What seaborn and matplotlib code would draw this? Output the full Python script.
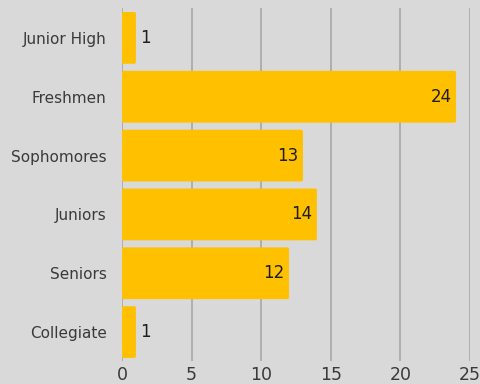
import pandas as pd
import matplotlib.pyplot as plt
import seaborn as sns
from matplotlib.patches import FancyBboxPatch

grades = ["Junior High", "Freshmen", "Sophomores", "Juniors", "Seniors", "Collegiate"]
counts = [1, 24, 13, 14, 12, 1]

df = pd.DataFrame({"Grade": grades, "Count": counts})

sns.set_style("white")
plt.rcParams["font.family"] = ["DejaVu Sans"]

bg = "#d9d9d9"
fig = plt.figure(figsize=(4.81, 3.84), dpi=100, facecolor=bg)
ax = fig.add_axes([0.2536, 0.0586, 0.7235, 0.9193])
ax.set_facecolor(bg)

sns.barplot(data=df, x="Count", y="Grade", order=grades, color="#ffc000",
            saturation=1, width=0.88, ax=ax, zorder=3)

# slightly rounded bar ends
for p in list(ax.patches):
    x0, y0 = p.get_x(), p.get_y()
    w, h = p.get_width(), p.get_height()
    p.set_visible(False)
    ax.add_patch(FancyBboxPatch((x0, y0), w, h,
                                boxstyle="round,pad=0,rounding_size=0.12",
                                mutation_aspect=0.25,
                                fc="#ffc000", ec="none", zorder=3))

for i, v in enumerate(counts):
    if v > 3:
        ax.text(v - 0.3, i, str(v), ha="right", va="center",
                fontsize=12, color="#1e1e1e", zorder=4)
    else:
        ax.text(v + 0.3, i, str(v), ha="left", va="center",
                fontsize=12, color="#1e1e1e", zorder=4)

ax.set_xlim(0, 25)
ax.set_ylim(5.5, -0.5)
ax.set_xticks([0, 5, 10, 15, 20, 25])
ax.xaxis.grid(True, color="#ababab", linewidth=1.3, zorder=0)
ax.set_axisbelow(True)
ax.set_xlabel("")
ax.set_ylabel("")
for s in ax.spines.values():
    s.set_visible(False)

ax.set_yticks([i + 0.5 for i in range(-1, 6)], minor=True)
ax.tick_params(axis="y", which="major", length=0, pad=11, labelsize=11,
               labelcolor="#3a3a3a")
ax.tick_params(axis="y", which="minor", length=3, width=1.2, color="#555555",
               direction="inout")
ax.tick_params(axis="x", length=0, pad=3, labelsize=12.5, labelcolor="#3a3a3a")

fig.savefig("out.png", dpi=100, facecolor=bg)
